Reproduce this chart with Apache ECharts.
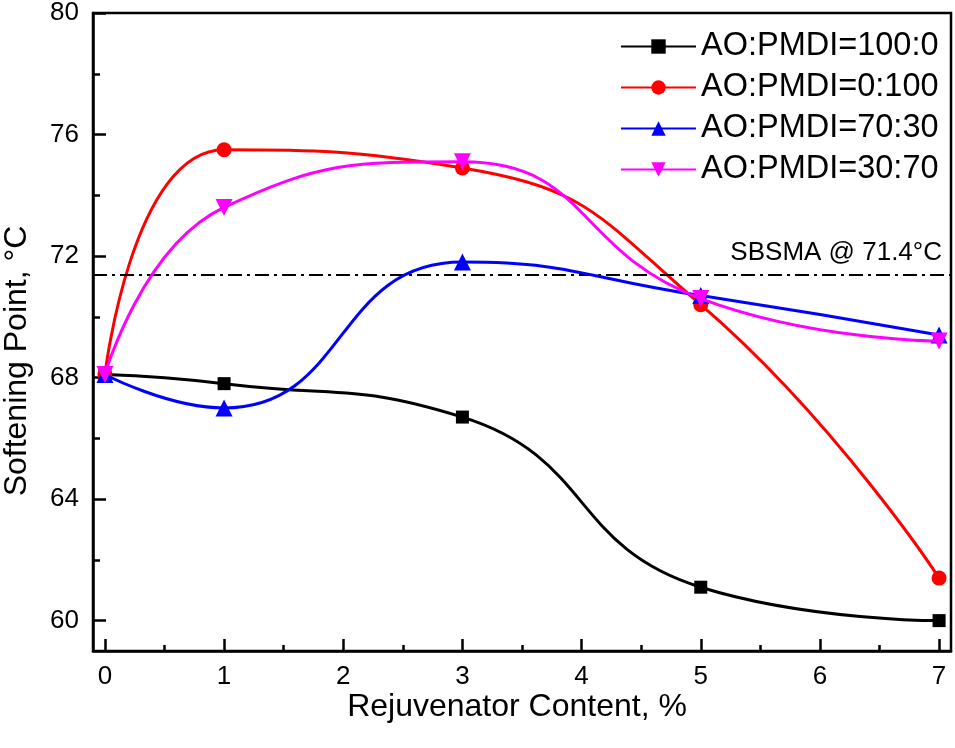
<!DOCTYPE html>
<html lang="en">
<head>
    <meta charset="UTF-8">
    <title>Softening Point</title>
    <script src="https://cdn.jsdelivr.net/npm/echarts@6/dist/echarts.min.js"></script>
    <style>
        html, body { margin: 0; padding: 0; background: #fff; }
        #main { width: 955px; height: 748px; }
    </style>
</head>
<body>
<div id="main"></div>
<script>
    // rejuvenator content, %
    var content = [0, 1, 3, 5, 7];
    var seriesNames = ['AO:PMDI=100:0', 'AO:PMDI=0:100', 'AO:PMDI=70:30', 'AO:PMDI=30:70'];
    var ao100 = [68.1, 67.8, 66.7, 61.1, 60.0];
    var pmdi100 = [68.1, 75.5, 74.9, 70.4, 61.4];
    var ao70 = [68.1, 67.0, 71.8, 70.7, 69.4];
    var ao30 = [68.1, 73.6, 75.1, 70.6, 69.2];
    var sbsma = 71.4;
    var xTicks = [0, 1, 2, 3, 4, 5, 6, 7];
    var xMinor = [0.5, 1.5, 2.5, 3.5, 4.5, 5.5, 6.5];
    var yTicks = [60, 64, 68, 72, 76, 80];
    var yMinor = [62, 66, 70, 74, 78];

    function pairs(ys) {
        return content.map(function (x, i) { return [x, ys[i]]; });
    }
    // only print the labels listed in the tick arrays
    function onlyTicks(list) {
        return function (v) {
            for (var i = 0; i < list.length; i++) {
                if (Math.abs(v - list[i]) < 1e-6) return String(list[i]);
            }
            return '';
        };
    }

    var font = 'Liberation Sans, Arial, sans-serif';
    var colors = ['#000000', '#ff0000', '#0000ff', '#ff00ff'];
    var symbols = ['rect', 'circle', 'triangle', 'path://M0,0 L10,0 L5,8.66 Z'];
    var sizes = [13, 15, 17, 17];
    var values = [ao100, pmdi100, ao70, ao30];

    var series = values.map(function (v, i) {
        return {
            name: seriesNames[i],
            type: 'line',
            xAxisIndex: 0,
            yAxisIndex: 0,
            data: pairs(v),
            smooth: 0.5,
            symbol: symbols[i],
            symbolSize: sizes[i],
            showAllSymbol: true,
            itemStyle: { color: colors[i] },
            lineStyle: { color: colors[i], width: 3 },
            z: 3 + i
        };
    });
    // dash-dot reference line
    series[0].markLine = {
        silent: true,
        symbol: ['none', 'none'],
        animation: false,
        lineStyle: { color: '#000', width: 2, type: [14, 5, 3, 5] },
        label: {
            show: true,
            position: 'insideEndTop',
            formatter: 'SBSMA @ 71.4°C',
            color: '#000',
            fontFamily: font,
            fontSize: 26,
            distance: [9, 8]
        },
        data: [{ yAxis: sbsma }]
    };

    var myChart = echarts.init(document.getElementById('main'));
    myChart.setOption({
        animation: false,
        grid: {
            left: 93, right: 4, top: 13, bottom: 97,
            show: true, borderColor: '#000', borderWidth: 2.5,
            containLabel: false,
            outerBoundsMode: 'none'
        },
        legend: {
            orient: 'vertical',
            left: 615,
            top: 25,
            itemWidth: 75,
            itemHeight: 18,
            itemGap: 8,
            textStyle: { fontFamily: font, fontSize: 32.5, color: '#000', lineHeight: 32 },
            data: seriesNames
        },
        xAxis: [{
            type: 'value',
            min: -0.1, max: 7.1,
            interval: 0.1,
            name: 'Rejuvenator Content, %',
            nameLocation: 'middle',
            nameGap: 40,
            nameMoveOverlap: false,
            nameTextStyle: { fontFamily: font, fontSize: 32, color: '#000', padding: [0, 10, 0, 0] },
            axisLine: { show: true, onZero: false, lineStyle: { color: '#000', width: 2.5 } },
            axisTick: { show: true, inside: true, length: 12, customValues: xTicks, lineStyle: { color: '#000', width: 2.5 } },
            axisLabel: { margin: 13, fontFamily: font, fontSize: 26, color: '#000', formatter: onlyTicks(xTicks) },
            splitLine: { show: false }
        }, {
            type: 'value',
            position: 'bottom',
            min: -0.1, max: 7.1,
            axisLine: { show: false, onZero: false },
            axisTick: { show: true, inside: true, length: 6, customValues: xMinor, lineStyle: { color: '#000', width: 2.5 } },
            axisLabel: { show: false },
            splitLine: { show: false }
        }],
        yAxis: [{
            type: 'value',
            min: 59, max: 80,
            interval: 1,
            name: 'Softening Point, °C',
            nameLocation: 'middle',
            nameGap: 60,
            nameMoveOverlap: false,
            nameTextStyle: { fontFamily: font, fontSize: 32, color: '#000', padding: [0, 58, 0, 0] },
            axisLine: { show: true, onZero: false, lineStyle: { color: '#000', width: 2.5 } },
            axisTick: { show: true, inside: true, length: 13, customValues: yTicks, lineStyle: { color: '#000', width: 2.5 } },
            axisLabel: { margin: 14, fontFamily: font, fontSize: 26, color: '#000', formatter: onlyTicks(yTicks) },
            splitLine: { show: false }
        }, {
            type: 'value',
            position: 'left',
            min: 59, max: 80,
            axisLine: { show: false, onZero: false },
            axisTick: { show: true, inside: true, length: 7, customValues: yMinor, lineStyle: { color: '#000', width: 2.5 } },
            axisLabel: { show: false },
            splitLine: { show: false }
        }],
        series: series
    });
</script>
</body>
</html>
